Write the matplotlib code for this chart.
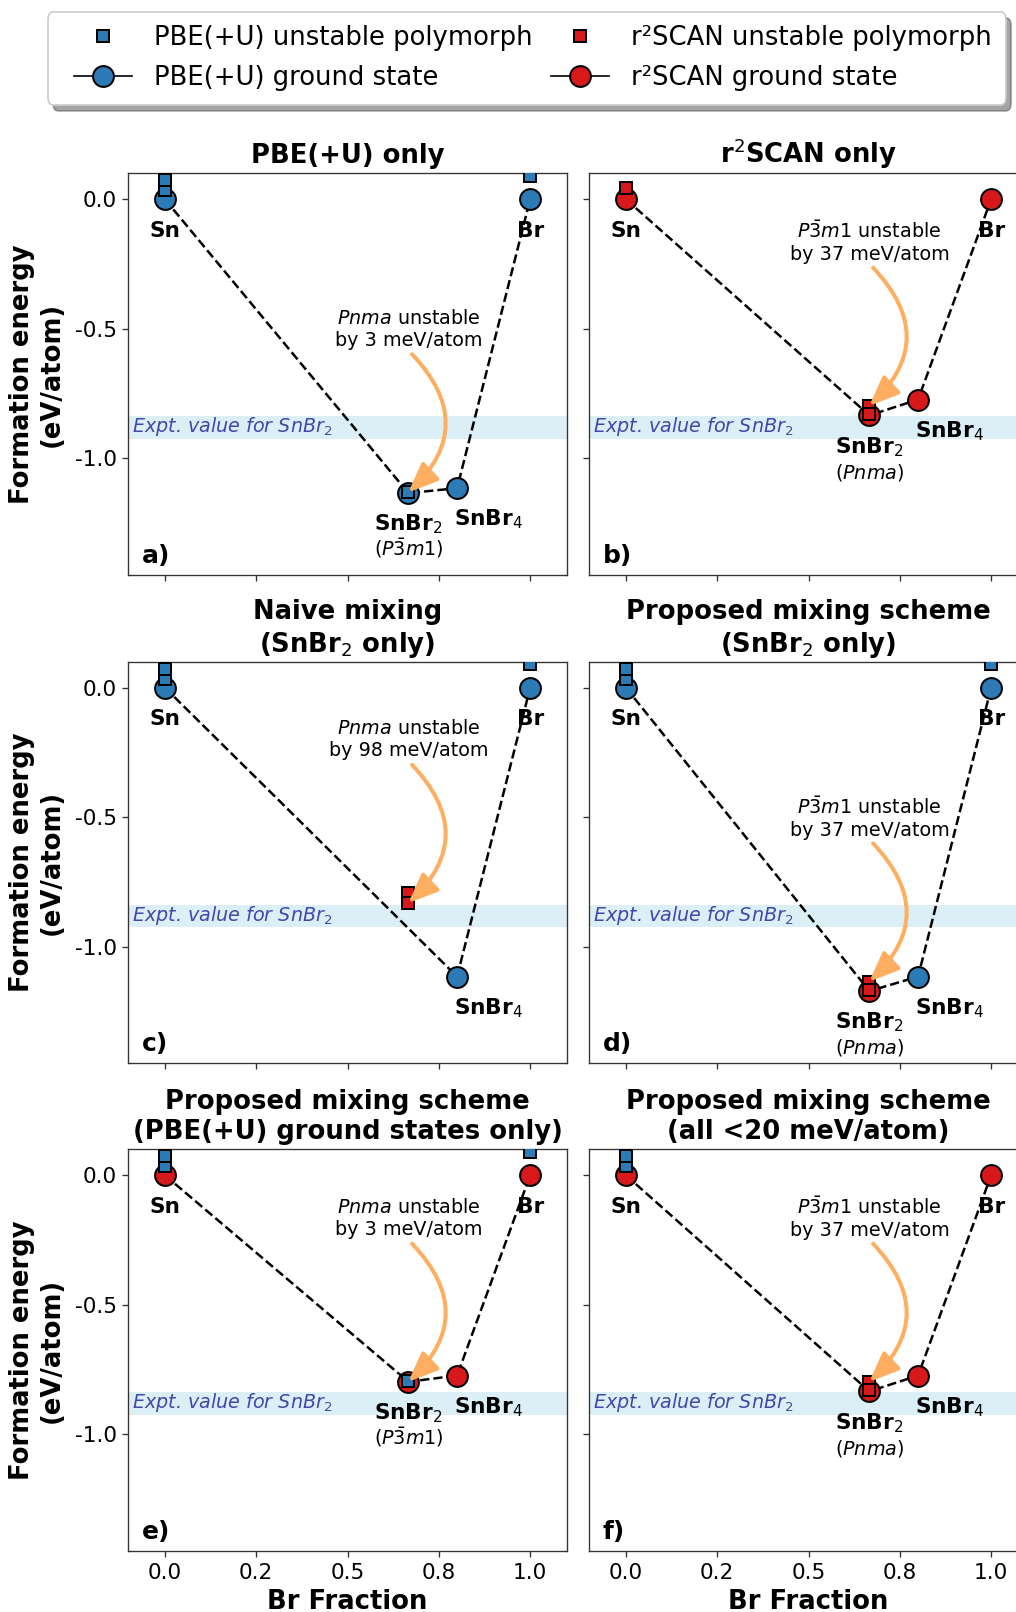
import matplotlib
matplotlib.use('Agg')
import matplotlib.pyplot as plt
from matplotlib.lines import Line2D
from matplotlib.patches import FancyBboxPatch, Shadow
from matplotlib.ticker import FixedLocator, FormatStrFormatter

plt.rcParams['font.family'] = ['DejaVu Sans']
plt.rcParams['axes.unicode_minus'] = False

BLUE = '#2c7bb6'
RED = '#d7191c'
ORANGE = '#fdae61'
COLORS = {'PBE': BLUE, 'R2': RED}

# compositions (Br fraction)
X_SN, X_SNBR2, X_SNBR4, X_BR = 0.0, 2 / 3, 0.8, 1.0
NAMES = {X_SN: 'Sn', X_SNBR2: 'SnBr$_2$', X_SNBR4: 'SnBr$_4$', X_BR: 'Br'}

titles = ['PBE(+U) only', 'r$^2$SCAN only',
          'Naive mixing\n(SnBr$_2$ only)', 'Proposed mixing scheme\n(SnBr$_2$ only)',
          'Proposed mixing scheme\n(PBE(+U) ground states only)',
          'Proposed mixing scheme\n(all <20 meV/atom)']
letters = ['a)', 'b)', 'c)', 'd)', 'e)', 'f)']

# ground states (hull points) per panel
gs_x = [[X_SN, X_SNBR2, X_SNBR4, X_BR],
        [X_SN, X_SNBR2, X_SNBR4, X_BR],
        [X_SN, X_SNBR4, X_BR],
        [X_SN, X_SNBR2, X_SNBR4, X_BR],
        [X_SN, X_SNBR2, X_SNBR4, X_BR],
        [X_SN, X_SNBR2, X_SNBR4, X_BR]]
gs_y = [[0.0, -1.134, -1.115, 0.0],
        [0.0, -0.834, -0.773, 0.0],
        [0.0, -1.115, 0.0],
        [0.0, -1.171, -1.115, 0.0],
        [0.0, -0.797, -0.773, 0.0],
        [0.0, -0.834, -0.773, 0.0]]
gs_src = [['PBE', 'PBE', 'PBE', 'PBE'],
          ['R2', 'R2', 'R2', 'R2'],
          ['PBE', 'PBE', 'PBE'],
          ['PBE', 'R2', 'PBE', 'PBE'],
          ['R2', 'R2', 'R2', 'R2'],
          ['R2', 'R2', 'R2', 'R2']]

# unstable polymorphs per panel
poly_x = [[X_SN, X_SN, X_SNBR2, X_BR],
          [X_SN, X_SNBR2, X_SNBR2],
          [X_SN, X_SN, X_SNBR2, X_SNBR2, X_BR],
          [X_SN, X_SN, X_SNBR2, X_SNBR2, X_BR],
          [X_SN, X_SN, X_SNBR2, X_BR],
          [X_SN, X_SN, X_SNBR2, X_SNBR2]]
poly_y = [[0.035, 0.073, -1.131, 0.09],
          [0.043, -0.797, -0.830],
          [0.035, 0.073, -0.794, -0.831, 0.09],
          [0.035, 0.073, -1.134, -1.168, 0.09],
          [0.035, 0.073, -0.794, 0.09],
          [0.035, 0.073, -0.797, -0.830]]
poly_src = [['PBE', 'PBE', 'PBE', 'PBE'],
            ['R2', 'R2', 'R2'],
            ['PBE', 'PBE', 'R2', 'R2', 'PBE'],
            ['PBE', 'PBE', 'R2', 'R2', 'PBE'],
            ['PBE', 'PBE', 'PBE', 'PBE'],
            ['PBE', 'PBE', 'R2', 'R2']]

notes = ['$Pnma$ unstable\nby 3 meV/atom',
         '$P\\bar{3}m1$ unstable\nby 37 meV/atom',
         '$Pnma$ unstable\nby 98 meV/atom',
         '$P\\bar{3}m1$ unstable\nby 37 meV/atom',
         '$Pnma$ unstable\nby 3 meV/atom',
         '$P\\bar{3}m1$ unstable\nby 37 meV/atom']
note_target = [-1.131, -0.797, -0.831, -1.134, -0.797, -0.797]
gs_phase = ['($P\\bar{3}m1$)', '($Pnma$)', None, '($Pnma$)', '($P\\bar{3}m1$)', '($Pnma$)']

expt_lo, expt_hi = -0.924, -0.837

xticks = [0.0, 0.25, 0.5, 0.75, 1.0]
yticks = [0.0, -0.5, -1.0]

legend_labels = ['PBE(+U) unstable polymorph', 'PBE(+U) ground state',
                 'r\u00b2SCAN unstable polymorph', 'r\u00b2SCAN ground state']

W, H, DPI = 1016, 1612, 120
fig = plt.figure(figsize=(W / DPI, H / DPI), dpi=DPI)

ax_w, ax_h = 438.4, 401.7
col_left = [128.3, 589.3]
row_top = [173.3, 661.7, 1149.3]

for i in range(6):
    r, c = divmod(i, 2)
    ax = fig.add_axes([col_left[c] / W, 1 - (row_top[r] + ax_h) / H, ax_w / W, ax_h / H])
    ax.set_xlim(-0.1, 1.1)
    ax.set_ylim(-1.45, 0.1)
    for sp in ax.spines.values():
        sp.set_color('#333333')
    ax.tick_params(colors='#333333', labelcolor='black', labelsize=13)
    ax.xaxis.set_major_locator(FixedLocator(xticks))
    ax.xaxis.set_major_formatter(FormatStrFormatter('%.1f'))
    ax.yaxis.set_major_locator(FixedLocator(yticks))
    ax.yaxis.set_major_formatter(FormatStrFormatter('%.1f'))
    if r < 2:
        ax.tick_params(labelbottom=False)
    else:
        ax.set_xlabel('Br Fraction', fontsize=15.5, fontweight='bold')
    if c == 1:
        ax.tick_params(labelleft=False)
    else:
        ax.set_ylabel('Formation energy\n(eV/atom)', fontsize=15.5, fontweight='bold', labelpad=6)
    ax.set_title(titles[i], fontsize=15.5, fontweight='bold')

    # experimental band
    ax.axhspan(expt_lo, expt_hi, color='#abd9e9', alpha=0.4, lw=0, zorder=0)
    ax.text(-0.09, -0.90, 'Expt. value for SnBr$_2$', style='italic', color='darkblue',
            alpha=0.7, fontsize=11.5, va='baseline', ha='left', zorder=1)

    # hull
    ax.plot(gs_x[i], gs_y[i], ls='--', color='k', lw=1.5, zorder=2)
    for xx, yy, s in zip(gs_x[i], gs_y[i], gs_src[i]):
        ax.plot([xx], [yy], ls='none', marker='o', ms=12.5, mfc=COLORS[s], mec='k',
                mew=1.2, zorder=3)
    for xx, yy, s in zip(poly_x[i], poly_y[i], poly_src[i]):
        ax.plot([xx], [yy], ls='none', marker='s', ms=7, mfc=COLORS[s], mec='k',
                mew=1.2, zorder=4)

    # labels
    for xx, yy in zip(gs_x[i], gs_y[i]):
        name = NAMES[xx]
        if xx == X_SNBR4:
            ax.text(xx - 0.008, yy - 0.145, name, ha='left', va='baseline',
                    fontsize=13, fontweight='bold', zorder=6)
        else:
            ax.text(xx, yy - 0.145, name, ha='center', va='baseline',
                    fontsize=13, fontweight='bold', zorder=6)
        if xx == X_SNBR2 and gs_phase[i]:
            ax.text(xx, yy - 0.242, gs_phase[i], ha='center', va='baseline',
                    fontsize=11.5, zorder=6)

    # note + arrow
    t = note_target[i]
    ax.text(X_SNBR2, t + 0.63, notes[i], ha='center', va='center', fontsize=11.5,
            multialignment='center', zorder=6)
    ax.annotate('', xy=(X_SNBR2, t), xytext=(X_SNBR2 + 0.01, t + 0.533),
                arrowprops=dict(arrowstyle='-|>,head_length=0.6,head_width=0.25',
                                color=ORANGE, lw=2.4, connectionstyle='arc3,rad=-0.5',
                                shrinkA=0, shrinkB=0, mutation_scale=25),
                zorder=7)

    ax.text(0.03, 0.03, letters[i], transform=ax.transAxes, fontsize=15,
            fontweight='bold', ha='left', va='baseline')

# legend
handles = [
    Line2D([], [], ls='none', marker='s', ms=7, mfc=BLUE, mec='k', mew=1.2),
    Line2D([], [], color='k', lw=1, marker='o', ms=12.5, mfc=BLUE, mec='k', mew=1.2),
    Line2D([], [], ls='none', marker='s', ms=7, mfc=RED, mec='k', mew=1.2),
    Line2D([], [], color='k', lw=1, marker='o', ms=12.5, mfc=RED, mec='k', mew=1.2),
]

frame = FancyBboxPatch((48 / W, 1 - 105 / H), (1006 - 48) / W, (105 - 12) / H,
                       boxstyle='round,pad=0,rounding_size=0.005',
                       transform=fig.transFigure, facecolor='white',
                       edgecolor='#cccccc', lw=1, zorder=1)
shadow = Shadow(frame, 0.003, -0.0022)
shadow.set_transform(fig.transFigure)
fig.add_artist(shadow)
fig.add_artist(frame)

leg = fig.legend(handles, legend_labels, ncol=2, loc='upper left',
                 bbox_to_anchor=(74 / W, 1 - 25 / H), bbox_transform=fig.transFigure,
                 frameon=False, fontsize=15.5, borderpad=0, borderaxespad=0,
                 handlelength=2.25, handletextpad=0.85, columnspacing=0.7,
                 labelspacing=0.54)

fig.savefig('out.png', dpi=DPI)
